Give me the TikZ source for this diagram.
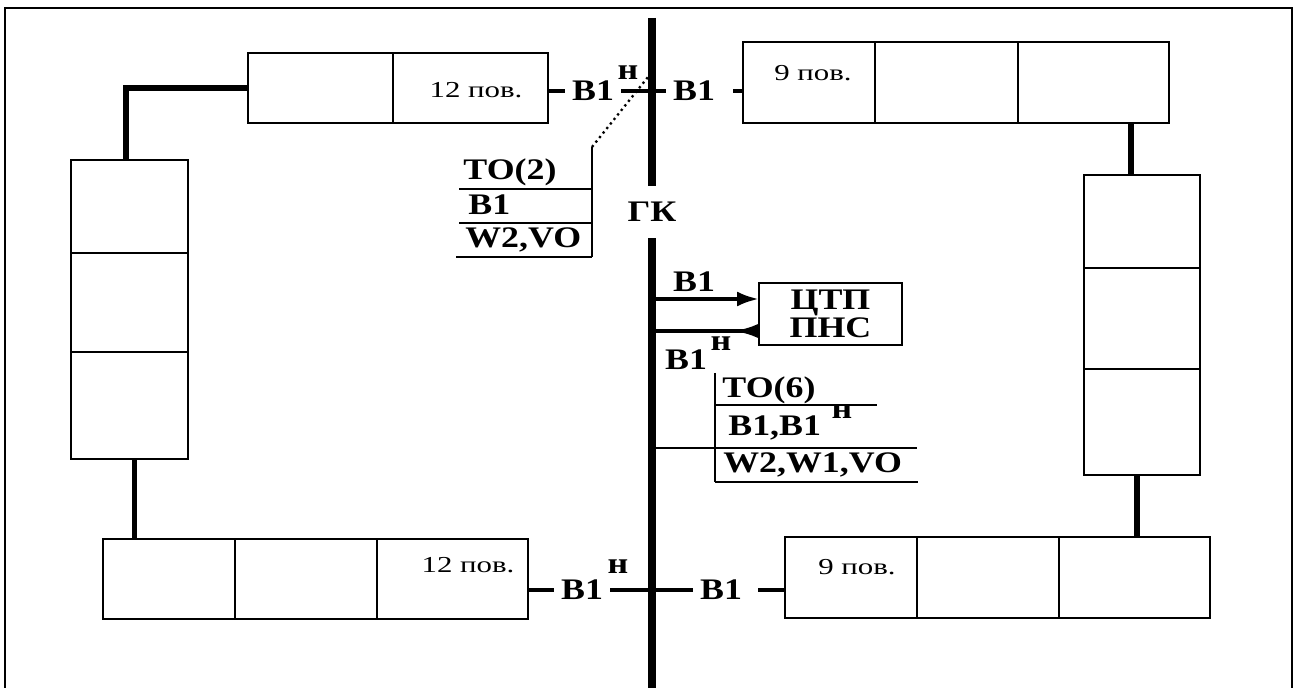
\documentclass[tikz,border=0pt]{standalone}
\usepackage{fontspec}
\setmainfont{Liberation Serif}
\newfontfamily\wideserif[FakeStretch=1.2]{Liberation Serif}
\newfontfamily\floorserif[FakeStretch=1.35]{Liberation Serif}
\usetikzlibrary{arrows.meta,
                chains,
                positioning
                }

\begin{document}
\begin{tikzpicture}[
    x=0.02cm, y=-0.02cm,
    node distance = 0pt,
 cell/.style = {draw, line width=1.5pt, inner sep=0pt, outer sep=0pt},
  lbl/.style = {font=\wideserif\bfseries\fontsize{17}{14.7}\selectfont,
                inner xsep=4pt, inner ysep=0pt},
floor/.style = {font=\floorserif\fontsize{13}{14}\selectfont, inner sep=0pt},
  bus/.style = {line width=4pt},
 link/.style = {line width=3.4pt},
 wire/.style = {line width=2pt},
 feed/.style = {line width=2.2pt},
 rule/.style = {line width=1.3pt}
                    ]
\useasboundingbox (0,0) rectangle (1293,688);
\draw[line width=1.1pt] (5,688) -- (5,8) -- (1292,8) -- (1292,688);
% sections
    \begin{scope}[start chain=going right, every node/.append style={on chain}]
\node (tl1) [cell, minimum width=2.9cm, minimum height=1.4cm] at (320.5,88) {};
\node (tl2) [cell, minimum width=3.1cm, minimum height=1.4cm] {};
    \end{scope}
    \begin{scope}[start chain=going right, every node/.append style={on chain}]
\node (tr1) [cell, minimum width=2.64cm, minimum height=1.62cm] at (809,82.5) {};
\node (tr2) [cell, minimum width=2.86cm, minimum height=1.62cm] {};
\node (tr3) [cell, minimum width=3.02cm, minimum height=1.62cm] {};
    \end{scope}
    \begin{scope}[start chain=going right, every node/.append style={on chain}]
\node (bl1) [cell, minimum width=2.64cm, minimum height=1.6cm] at (169,579) {};
\node (bl2) [cell, minimum width=2.84cm, minimum height=1.6cm] {};
\node (bl3) [cell, minimum width=3.02cm, minimum height=1.6cm] {};
    \end{scope}
    \begin{scope}[start chain=going right, every node/.append style={on chain}]
\node (br1) [cell, minimum width=2.64cm, minimum height=1.62cm] at (851,577.5) {};
\node (br2) [cell, minimum width=2.84cm, minimum height=1.62cm] {};
\node (br3) [cell, minimum width=3.02cm, minimum height=1.62cm] {};
    \end{scope}
    \begin{scope}[start chain=going below, every node/.append style={on chain}]
\node (lv1) [cell, minimum width=2.34cm, minimum height=1.86cm] at (129.5,206.5) {};
\node (lv2) [cell, minimum width=2.34cm, minimum height=1.98cm] {};
\node (lv3) [cell, minimum width=2.34cm, minimum height=2.14cm] {};
    \end{scope}
    \begin{scope}[start chain=going below, every node/.append style={on chain}]
\node (rv1) [cell, minimum width=2.32cm, minimum height=1.86cm] at (1142,221.5) {};
\node (rv2) [cell, minimum width=2.32cm, minimum height=2.02cm] {};
\node (rv3) [cell, minimum width=2.32cm, minimum height=2.12cm] {};
    \end{scope}
\node [floor] at (476,90) {12 пов.};
\node [floor] at (813,73) {9 пов.};
\node [floor] at (468,565) {12 пов.};
\node [floor] at (857,567) {9 пов.};
\draw[link] ([xshift=-0.07cm]lv1.north) |- (tl1.west);
\draw[link] ([xshift=0.1cm]lv3.south) -- ([xshift=0.1cm]lv3.south |- bl1.north);
\draw[link] ([xshift=-0.22cm]rv1.north) -- ([xshift=-0.22cm]rv1.north |- tr3.south);
\draw[link] ([xshift=-0.1cm]rv3.south) -- ([xshift=-0.1cm]rv3.south |- br3.north);
% main riser
\node (gk) [lbl, minimum height=1.04cm] at (652,212) {ГК};
\coordinate (bustop) at (652,18);
\coordinate (busend) at (652,688);
\draw[bus] (bustop) -- (gk.north);
\draw[bus] (gk.south) -- (busend);
% branches
\node (b1tl) [lbl] at (593,91) {B1};
\node (htl)  [lbl] at (628,73) {н};
\node (b1tr) [lbl] at (694,91) {B1};
\draw[wire] (tl2.east |- b1tl) -- (b1tl);
\draw[wire] (b1tl) -- (b1tr);
\draw[wire] ([xshift=0.22cm]b1tr.east) -- (b1tr -| tr1.west);
\node (b1bl) [lbl] at (582,590) {B1};
\node (hbl)  [lbl] at (618,567) {н};
\node (b1br) [lbl] at (721,590) {B1};
\draw[wire] (bl3.east |- b1bl) -- (b1bl);
\draw[wire] (b1bl) -- (b1br);
\draw[wire] ([xshift=0.18cm]b1br.east) -- (b1br -| br1.west);
% heat point
\node (ctp) [cell, minimum width=2.86cm, minimum height=1.24cm, align=center,
             font=\wideserif\bfseries\fontsize{17}{14.7}\selectfont] at (830.5,314) {ЦТП\\ПНС};
\coordinate (vin)  at (652,299);
\coordinate (vout) at (652,331);
\draw[feed, -{Latex[length=0.44cm, width=0.3cm]}] (vin) -- (vin -| ctp.west);
\draw[feed, -{Latex[reversed, length=0.5cm, width=0.3cm]}] (vout) -- (vout -| ctp.west);
\node (b1in)  [lbl] at (694,282) {B1};
\node (b1out) [lbl] at (686,360) {B1};
\node (hout)  [lbl] at (721,344) {н};
% leader tables
\draw[rule, dotted] (592,147) -- (648,77);
\draw[rule] (592,147) -- (592,257);
\draw[rule] (459,189) -- (592,189);
\draw[rule] (459,223) -- (592,223);
\draw[rule] (456,257) -- (592,257);
\node [lbl, anchor=west] at (456,172) {ТО(2)};
\node [lbl, anchor=west] at (461,205) {B1};
\node [lbl, anchor=west] at (458,240) {W2,VO};
\draw[rule] (715,373) -- (715,482);
\draw[rule] (715,405) -- (877,405);
\draw[rule] (652,448) -- (917,448);
\draw[rule] (715,482) -- (918,482);
\node [lbl, anchor=west] at (715,390) {ТО(6)};
\node [lbl, anchor=west] at (721,428) {B1,B1};
\node [lbl] at (842,412) {н};
\node [lbl, anchor=west] at (716,465) {W2,W1,VO};
\end{tikzpicture}
\end{document}
